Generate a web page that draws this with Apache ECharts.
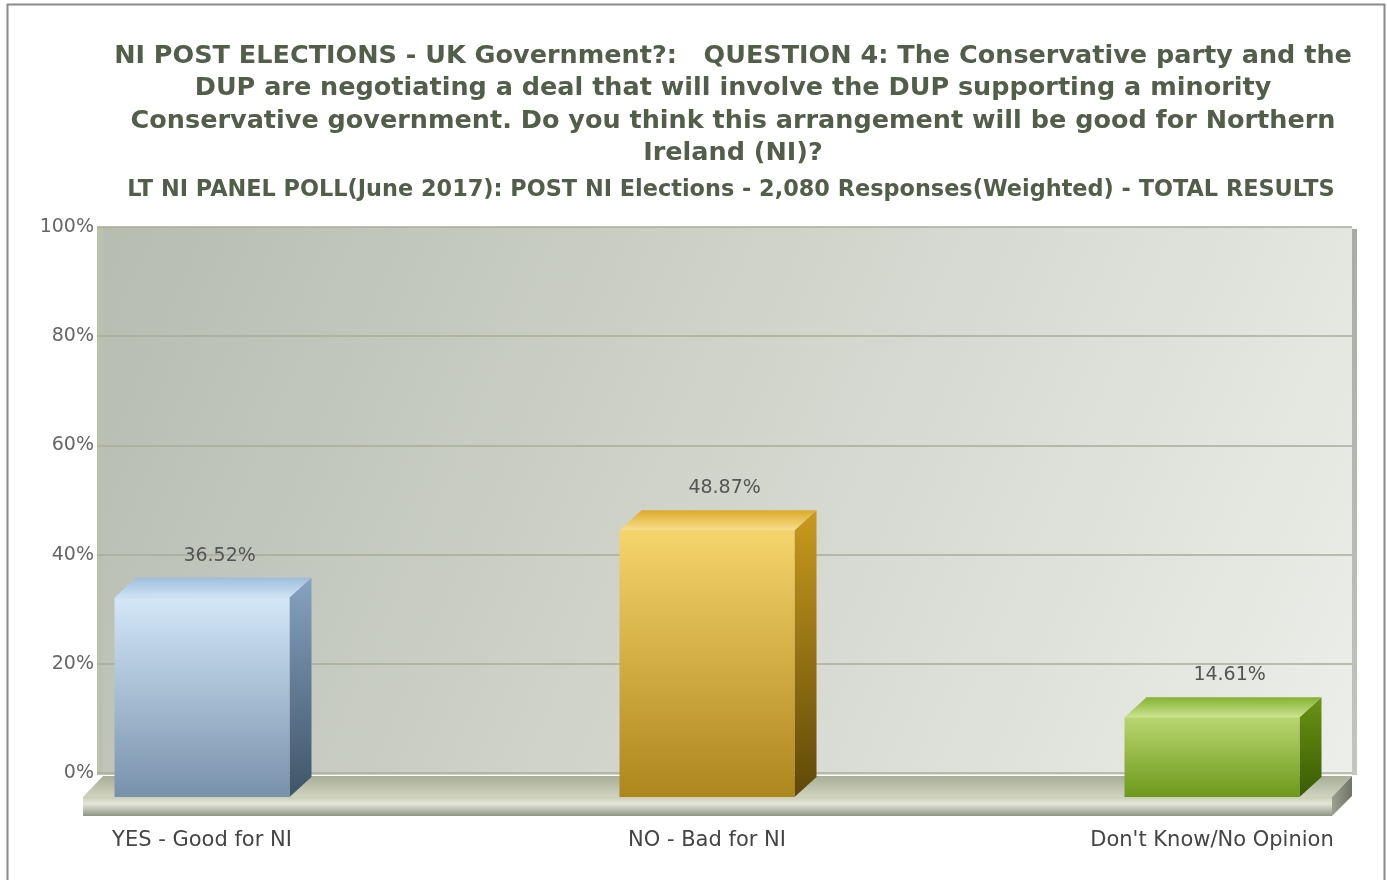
<!DOCTYPE html>
<html>
<head>
<meta charset="utf-8">
<script src="https://cdn.jsdelivr.net/npm/echarts@6/dist/echarts.min.js"></script>
<style>
html,body{margin:0;padding:0;background:#fff;}
#chart{width:1387px;height:880px;}
</style>
</head>
<body>
<div id="chart"></div>
<script>
// ---- data ----
const categories = ['YES - Good for NI', 'NO - Bad for NI', "Don't Know/No Opinion"];
const values = [36.52, 48.87, 14.61];
const yTicks = [0, 20, 40, 60, 80, 100];
const titleText = 'NI POST ELECTIONS - UK Government?:   QUESTION 4: The Conservative party and the\nDUP are negotiating a deal that will involve the DUP supporting a minority\nConservative government. Do you think this arrangement will be good for Northern\nIreland (NI)?';
const subtitleText = 'LT NI PANEL POLL(June 2017): POST NI Elections - 2,080 Responses(Weighted) - TOTAL RESULTS';

// ---- styles ----
const palettes = [
  { front: ['#d3e7f8', '#7891ab'], side: ['#86a3c0', '#3f5468'], top: ['#9fbedd', '#cfe3f5'] },
  { front: ['#f6d46c', '#ad861c'], side: ['#c99a1e', '#5f4808'], top: ['#dca92a', '#f6df8c'] },
  { front: ['#b9d670', '#6c981a'], side: ['#6a9414', '#3a5a04'], top: ['#84b232', '#cbe38e'] }
];
const W = 175, DX = 22, DY = 20;

function lg(c0, c1) {
  return new echarts.graphic.LinearGradient(0, 0, 0, 1, [{offset: 0, color: c0}, {offset: 1, color: c1}]);
}
function lgH(c0, c1) {
  return new echarts.graphic.LinearGradient(0, 0, 1, 0, [{offset: 0, color: c0}, {offset: 1, color: c1}]);
}

const chart = echarts.init(document.getElementById('chart'), null, {renderer: 'canvas'});

const option = {
  backgroundColor: '#ffffff',
  animation: false,
  title: [
    {
      text: titleText,
      left: 728, top: 35, textAlign: 'center',
      textStyle: { fontFamily: 'DejaVu Sans', fontWeight: 'bold', fontSize: 25.5, color: '#515e4a', lineHeight: 32.5 }
    },
    {
      text: subtitleText,
      left: 726, top: 174, textAlign: 'center',
      textStyle: { fontFamily: 'DejaVu Sans', fontWeight: 'bold', fontSize: 22.4, color: '#515e4a', lineHeight: 22 }
    }
  ],
  graphic: [
    { type: 'rect', z: -10, silent: true, shape: {x: 7.5, y: 4.5, width: 1377, height: 890},
      style: {fill: 'none', stroke: '#8a8a8a', lineWidth: 2} },
    // back wall
    { type: 'rect', z: -5, silent: true, shape: {x: 97, y: 227, width: 1255, height: 548},
      style: {fill: new echarts.graphic.LinearGradient(0, 0, 1, 1, [{offset: 0, color: '#b7bcb1'}, {offset: 0.5, color: '#d1d5cc'}, {offset: 1, color: '#eceee9'}])} },
    { type: 'rect', z: -4, silent: true, shape: {x: 97, y: 227, width: 6, height: 548},
      style: {fill: '#bcc1ac'} },
    { type: 'rect', z: -4, silent: true, shape: {x: 1352, y: 229, width: 5, height: 546},
      style: {fill: lg('#a8aca4', '#c3c6bf')} },
    // floor top face
    { type: 'polygon', z: -3, silent: true, shape: {points: [[103, 776], [1352, 776], [1332, 797], [83, 797]]},
      style: {fill: lg('#a9ae98', '#cfd3c0')} },
    // floor front face
    { type: 'rect', z: -3, silent: true, shape: {x: 83, y: 797, width: 1249, height: 19},
      style: {fill: new echarts.graphic.LinearGradient(0, 0, 0, 1, [{offset: 0, color: '#c9cdb6'}, {offset: 0.35, color: '#e4e7d8'}, {offset: 1, color: '#8e9484'}])} },
    // floor right side
    { type: 'polygon', z: -3, silent: true, shape: {points: [[1332, 797], [1352, 776], [1352, 796], [1332, 816]]},
      style: {fill: lgH('#9ca090', '#6f7466')} }
  ],
  grid: [
    { left: 97, right: 35, top: 227, bottom: 107, show: false },
    { left: 202, right: 175, top: 251, bottom: 83, show: false }
  ],
  xAxis: [
    { gridIndex: 0, type: 'category', data: categories, show: false },
    { gridIndex: 1, type: 'category', data: categories, boundaryGap: false,
      axisLine: {show: false}, axisTick: {show: false}, splitLine: {show: false},
      axisLabel: { margin: 33, fontFamily: 'DejaVu Sans', fontSize: 21, color: '#444', interval: 0 } }
  ],
  yAxis: [
    { gridIndex: 0, type: 'value', min: 0, max: 100, interval: 20,
      axisLine: {show: false}, axisTick: {show: false},
      axisLabel: { formatter: '{value}%', fontFamily: 'DejaVu Sans', fontSize: 19, color: '#666', margin: 3 },
      splitLine: { show: true, lineStyle: { color: '#a7ad98', width: 1.5 } } },
    { gridIndex: 1, type: 'value', min: 0, max: 100, show: false }
  ],
  series: [
    {
      type: 'custom',
      xAxisIndex: 1, yAxisIndex: 1,
      data: values.map((v, i) => [i, v]),
      renderItem: function (params, api) {
        const i = api.value(0);
        const top = api.coord([i, api.value(1)]);
        const base = api.coord([i, 0]);
        const p = palettes[i % palettes.length];
        const x0 = top[0] - W / 2, x1 = top[0] + W / 2;
        const y0 = top[1], y1 = base[1];
        return {
          type: 'group',
          children: [
            { type: 'polygon', shape: {points: [[x1, y0], [x1 + DX, y0 - DY], [x1 + DX, y1 - DY], [x1, y1]]},
              style: {fill: lg(p.side[0], p.side[1])} },
            { type: 'polygon', shape: {points: [[x0, y0], [x1, y0], [x1 + DX, y0 - DY], [x0 + DX, y0 - DY]]},
              style: {fill: lg(p.top[0], p.top[1])} },
            { type: 'rect', shape: {x: x0, y: y0, width: W, height: y1 - y0},
              style: {fill: lg(p.front[0], p.front[1])} },
            { type: 'text', style: {
                text: api.value(1).toFixed(2) + '%', x: top[0] + DX * 0.8, y: y0 - DY - 22,
                align: 'center', verticalAlign: 'middle',
                font: '19px "DejaVu Sans"', fill: '#555' } }
          ]
        };
      }
    }
  ]
};
chart.setOption(option);
</script>
</body>
</html>
